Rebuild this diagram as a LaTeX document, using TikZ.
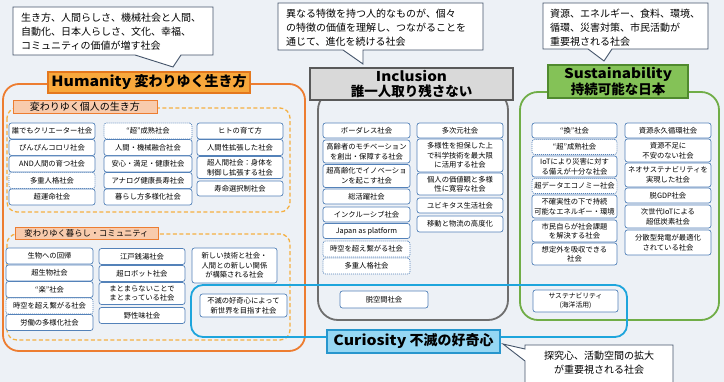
\documentclass[tikz,border=0pt]{standalone}
\usepackage{fontspec}
\setmainfont{Noto Sans CJK JP}
\newcommand\widelat[1]{\scalebox{1.13}[1]{#1}}
\definecolor{bgc}{RGB}{237,241,246}
\definecolor{itemb}{RGB}{84,130,185}
\definecolor{callb}{RGB}{68,84,106}
\definecolor{orline}{RGB}{237,125,49}
\definecolor{orfill}{RGB}{248,168,60}
\definecolor{ordraw}{RGB}{228,120,30}
\definecolor{salmon}{RGB}{248,203,173}
\definecolor{dashor}{RGB}{245,176,65}
\definecolor{grline}{RGB}{110,110,110}
\definecolor{grfill}{RGB}{217,217,217}
\definecolor{grdraw}{RGB}{89,89,89}
\definecolor{gnline}{RGB}{112,173,71}
\definecolor{gnfill}{RGB}{132,194,87}
\definecolor{gndraw}{RGB}{80,138,46}
\definecolor{cyline}{RGB}{30,165,220}
\definecolor{cyfill}{RGB}{150,215,243}
\definecolor{cydraw}{RGB}{40,150,205}
\tikzset{
  sz/.style 2 args={minimum width=#1pt,minimum height=#2pt},
  item/.style={draw=itemb,fill=white,line width=0.7pt,rounded corners=2.5pt,inner sep=0pt,align=center,font=\fontsize{7.3}{9.5}\selectfont},
  dotitem/.style={item,dash pattern=on 1pt off 1pt},
  callout/.style={draw=callb,fill=white,line width=0.9pt,line join=miter},
  calltext/.style={inner sep=0pt,align=left,font=\fontsize{10}{13.8}\selectfont},
  header/.style={inner sep=0pt,align=center,line width=1.3pt,font=\bfseries\fontsize{13.5}{15.5}\selectfont},
  sublabel/.style={draw=orline,fill=salmon,line width=0.9pt,inner sep=0pt},
  outer/.style={line width=1.8pt,rounded corners=16pt}
}
\begin{document}
\begin{tikzpicture}[x=1pt,y=-1pt]
\fill[bgc] (0,0) rectangle (724,382);
\useasboundingbox (0,0) rectangle (724,382);

% outer frames
\draw[outer,draw=orline] (3,84) rectangle (305,351);
\draw[draw=dashor,line width=1.3pt,dash pattern=on 4pt off 2.5pt,rounded corners=10pt] (7,108) rectangle (290,212);
\draw[draw=dashor,line width=1.3pt,dash pattern=on 4pt off 2.5pt,rounded corners=10pt] (7,234) rectangle (290,340);
\draw[outer,draw=grline,rounded corners=20pt] (318,90) rectangle (508,320);
\draw[outer,draw=gnline,rounded corners=18pt] (520,92) rectangle (719,320);
\draw[line width=1.8pt,draw=cyline,rounded corners=12pt] (191,285) rectangle (627,337);

% headers and labels
\node[header,draw=ordraw,fill=orfill,sz={202}{21},font=\bfseries\fontsize{14}{16}\selectfont] (humh) at (149,82.5) {\widelat{Humanity} 変わりゆく生き方};
\node[sublabel,sz={144}{13},font=\fontsize{10}{12}\selectfont] (indl) at (85,107) {変わりゆく個人の生き方};
\node[sublabel,sz={143}{12},font=\fontsize{8.3}{10}\selectfont] (coml) at (86.5,233) {変わりゆく暮らし・コミュニティ};
\node[header,draw=grdraw,fill=grfill,sz={203}{32}] (inch) at (411.5,84) {\widelat{Inclusion}\\誰一人取り残さない};
\node[header,draw=gndraw,fill=gnfill,sz={140}{33}] (sush) at (618,81.5) {\widelat{Sustainability}\\持続可能な日本};

% Humanity: individual
\node[item,sz={86}{16}] (hA1) at (52,131) {誰でもクリエーター社会};
\node[item,sz={86}{16}] (hA2) at (52,147.5) {ぴんぴんコロリ社会};
\node[item,sz={86}{16}] (hA3) at (52,164) {AND人間の育つ社会};
\node[dotitem,sz={86}{16}] (hA4) at (52,180.5) {多重人格社会};
\node[item,sz={86}{16}] (hA5) at (52,197) {超運命社会};
\node[dotitem,sz={88}{16}] (hB1) at (148,131) {“超”成熟社会};
\node[item,sz={88}{16}] (hB2) at (148,147.5) {人間・機械融合社会};
\node[item,sz={88}{16}] (hB3) at (148,164) {安心・満足・健康社会};
\node[item,sz={88}{16}] (hB4) at (148,180.5) {アナログ健康長寿社会};
\node[item,sz={88}{16}] (hB5) at (148,197) {暮らし方多様化社会};
\node[item,sz={86}{16}] (hC1) at (240,131) {ヒトの育て方};
\node[item,sz={86}{16}] (hC2) at (240,147.5) {人間性拡張した社会};
\node[item,sz={86}{22}] (hC3) at (240,167.5) {超人間社会：身体を\\制御し拡張する社会};
\node[item,sz={86}{15}] (hC4) at (240,188.5) {寿命選択制社会};

% Humanity: community
\node[item,sz={87}{16}] (cA1) at (49.5,256) {生物への回帰};
\node[item,sz={87}{16}] (cA2) at (49.5,273) {超生物社会};
\node[item,sz={87}{16}] (cA3) at (49.5,289.5) {“楽”社会};
\node[dotitem,sz={87}{16}] (cA4) at (49.5,306) {時空を超え繋がる社会};
\node[item,sz={87}{16}] (cA5) at (49.5,322.5) {労働の多様化社会};
\node[item,sz={86}{16}] (cB1) at (142,256.5) {江戸銭湯社会};
\node[item,sz={86}{16}] (cB2) at (142,273.5) {超ロボット社会};
\node[item,sz={86}{22}] (cB3) at (142,293.5) {まとまらないことで\\まとまっている社会};
\node[item,sz={86}{16}] (cB4) at (142,315.5) {野性味社会};
\node[item,sz={85}{35}] (cC1) at (234.5,265.5) {新しい技術と社会・\\人間との新しい関係\\が構築される社会};
\node[item,sz={87}{23}] (cur1) at (243.5,305.5) {不滅の好奇心によって\\新世界を目指す社会};

% Inclusion
\node[item,sz={87}{15}] (iA1) at (366.5,130.5) {ボーダレス社会};
\node[item,sz={87}{23}] (iA2) at (366.5,151.5) {高齢者のモチベーション\\を創出・保障する社会};
\node[item,sz={87}{23}] (iA3) at (366.5,176) {超高齢化でイノベーショ\\ンを起こす社会};
\node[item,sz={87}{15}] (iA4) at (366.5,196.5) {総活躍社会};
\node[item,sz={87}{15}] (iA5) at (366.5,214.5) {インクルーシブ社会};
\node[item,sz={87}{15}] (iA6) at (366.5,231) {Japan as platform};
\node[dotitem,sz={87}{16}] (iA7) at (366.5,249) {時空を超え繋がる社会};
\node[dotitem,sz={87}{16}] (iA8) at (366.5,266) {多重人格社会};
\node[item,sz={86}{15}] (iB1) at (460,130.5) {多次元社会};
\node[item,sz={86}{33}] (iB2) at (460,155.5) {多様性を担保した上\\で科学技術を最大限\\に活用する社会};
\node[item,sz={86}{22}] (iB3) at (460,184) {個人の価値観と多様\\性に寛容な社会};
\node[item,sz={86}{15}] (iB4) at (460,205.5) {ユビキタス生活社会};
\node[item,sz={86}{16}] (iB5) at (460,224) {移動と物流の高度化};
\node[item,sz={88}{17}] (dsp) at (384,299.5) {脱空間社会};

% Sustainability
\node[item,sz={85}{15}] (sA1) at (574.5,130.5) {“換”社会};
\node[dotitem,sz={85}{15}] (sA2) at (574.5,147) {“超”成熟社会};
\node[item,sz={85}{21}] (sA3) at (574.5,166.5) {IoTにより災害に対す\\る備えが十分な社会};
\node[dotitem,sz={85}{15}] (sA4) at (574.5,186) {超データエコノミー社会};
\node[item,sz={85}{23}] (sA5) at (574.5,206.5) {不確実性の下で持続\\可能なエネルギー・環境};
\node[item,sz={85}{22}] (sA6) at (574.5,231) {市民自らが社会課題\\を解決する社会};
\node[item,sz={85}{22}] (sA7) at (574.5,254) {想定外を吸収できる\\社会};
\node[item,sz={86}{15}] (sB1) at (668,130.5) {資源永久循環社会};
\node[item,sz={86}{23}] (sB2) at (668,150.5) {資源不足に\\不安のない社会};
\node[item,sz={86}{24}] (sB3) at (668,175) {ネオサステナビリティを\\実現した社会};
\node[item,sz={86}{15}] (sB4) at (668,195.5) {脱GDP社会};
\node[item,sz={86}{23}] (sB5) at (668,216.5) {次世代IoTによる\\超低炭素社会};
\node[item,sz={86}{25}] (sB6) at (668,242.5) {分散型発電が最適化\\されている社会};
\node[item,sz={85}{22},font=\fontsize{6.8}{8.8}\selectfont] (sea) at (575.5,301) {サステナビリティ\\(海洋活用)};

% Curiosity label
\node[header,draw=cydraw,fill=cyfill,sz={173}{23},font=\bfseries\fontsize{14}{16}\selectfont] (curh) at (413.5,341.5) {\widelat{Curiosity} 不滅の好奇心};

% callouts
\coordinate (p1) at (173,67);
\coordinate (p2) at (363,64);
\coordinate (p3) at (604,61);
\coordinate (p4) at (503,344);
\draw[callout] (13,7) -- (213,7) -- (213,55) -- (181,55) -- (p1) -- (135,55) -- (13,55) -- cycle;
\draw[callout] (278,3) -- (483,3) -- (483,50) -- (363,50) -- (p2) -- (343,50) -- (278,50) -- cycle;
\draw[callout] (543,3) -- (708,3) -- (708,49) -- (612,49) -- (p3) -- (588,49) -- (543,49) -- cycle;
\draw[callout] (525,345) -- (673,345) -- (673,392) -- (525,392) -- (525,361) -- (p4) -- (525,349) -- cycle;
\node[calltext,anchor=west] (t1) at (21,31.5) {生き方、人間らしさ、機械社会と人間、\\自動化、日本人らしさ、文化、幸福、\\コミュニティの価値が増す社会};
\node[calltext,anchor=west] (t2) at (286,27.5) {異なる特徴を持つ人的なものが、個々\\の特徴の価値を理解し、つながることを\\通じて、進化を続ける社会};
\node[calltext,anchor=west] (t3) at (550,27.5) {資源、エネルギー、食料、環境、\\循環、災害対策、市民活動が\\重要視される社会};
\node[calltext,align=center] (t4) at (599,362.5) {探究心、活動空間の拡大\\が重要視される社会};
\end{tikzpicture}
\end{document}
